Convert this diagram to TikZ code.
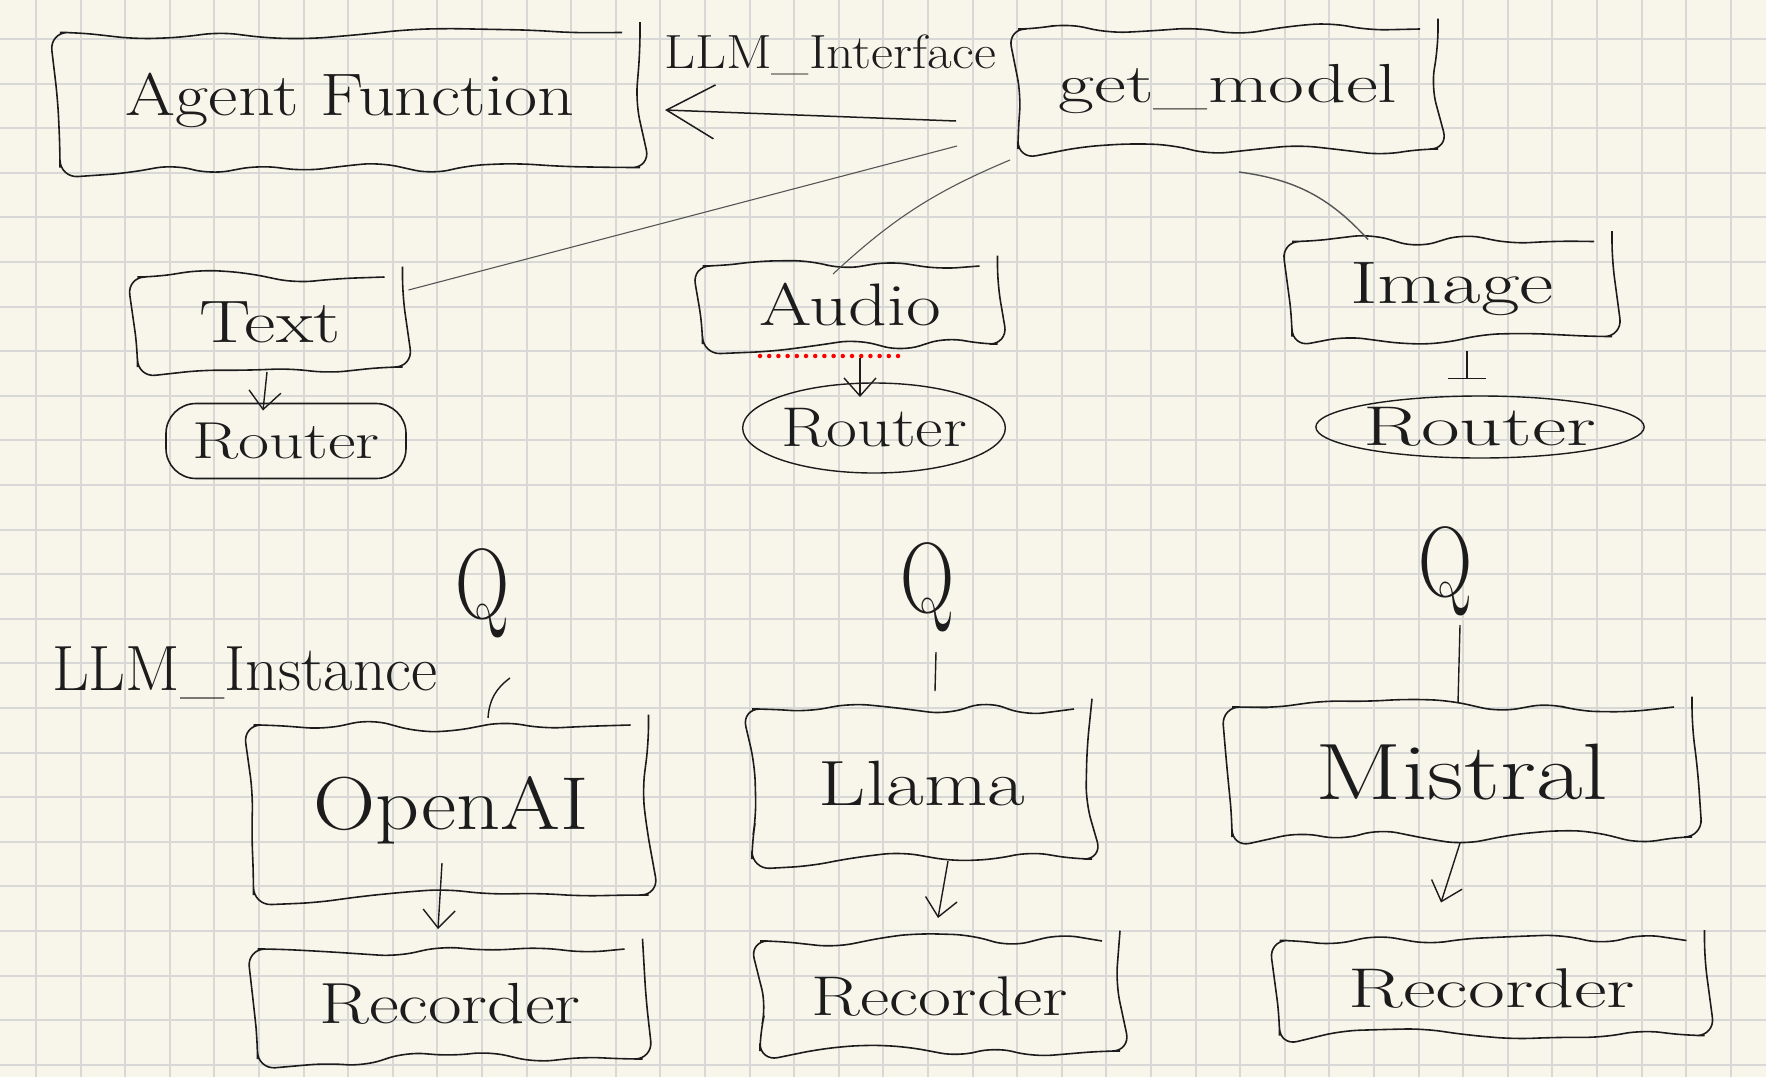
\documentclass[tikz,border=0pt]{standalone}
\usetikzlibrary{arrows.meta,calc,decorations.pathmorphing,shapes.geometric}

\definecolor{paper}{RGB}{248,246,235}
\definecolor{gridgray}{RGB}{216,216,214}
\definecolor{ink}{RGB}{28,28,28}

\newcommand{\scrawl}[2][1.3]{\scalebox{#1}[1]{#2}}

\tikzset{
  hand/.style={font=\fontsize{#1}{#1}\selectfont, text=ink},
  gridline/.style={draw=gridgray, line width=2pt},
  doodle/.style={draw=ink, line width=1.6pt, inner sep=0pt, outer sep=0pt,
    decorate, decoration={random steps, segment length=44pt, amplitude=8pt},
    rounded corners=18pt},
  pill/.style={draw=ink, line width=1.6pt, inner sep=0pt, outer sep=0pt,
    rounded corners=30pt},
  blob/.style={draw=ink, line width=1.4pt, ellipse, inner sep=0pt, outer sep=0pt},
  flow/.style={draw=ink, line width=1.4pt, -{Straight Barb[length=18pt,width=32pt]}},
  thread/.style={draw=ink!75, line width=1.1pt},
}

\begin{document}
\begin{tikzpicture}[x=1pt,y=-1pt]
  \pgfmathsetseed{11}
  \fill[paper] (0,0) rectangle (1766,1077);
  \useasboundingbox (0,0) rectangle (1766,1077);

  % grid paper
  \foreach \i in {0,...,38}
    \draw[gridline] ({36+44.6*\i},0) -- ({36+44.6*\i},1077);
  \foreach \j in {0,...,23}
    \draw[gridline] (0,{39+44.6*\j}) -- (1766,{39+44.6*\j});

  % top row
  \node[doodle, minimum width=580, minimum height=135, hand=60] (agentfn) at (350,100) {\scrawl[1.2]{Agent Function}};
  \node[doodle, minimum width=420, minimum height=120, hand=55] (getmodel) at (1228,89) {\scrawl[1.42]{get\_model}};
  \node[hand=48] (iface) at (830,55) {\scrawl[1.12]{LLM\_Interface}};

  % modalities
  \node[doodle, minimum width=265, minimum height=90, hand=60] (textmod) at (270,322) {\scrawl[1.28]{Text}};
  \node[doodle, minimum width=295, minimum height=78, hand=60] (audiomod) at (850,305) {\scrawl[1.26]{Audio}};
  \node[doodle, minimum width=320, minimum height=95, hand=60] (imagemod) at (1452,289) {\scrawl[1.4]{Image}};

  % routers
  \node[pill, minimum width=240, minimum height=75, hand=52] (routerT) at (286,441) {\scrawl[1.3]{Router}};
  \node[blob, minimum width=247, minimum height=90, hand=56] (routerA) at (874,428) {\scrawl[1.2]{Router}};
  \node[blob, minimum width=310, minimum height=62, hand=56] (routerI) at (1480,427) {\scrawl[1.5]{Router}};

  % Q marks
  \node[hand=100] (qT) at (482,593) {\scrawl[0.75]{Q}};
  \node[hand=100] (qA) at (927,587) {\scrawl[0.75]{Q}};
  \node[hand=100] (qI) at (1445,571) {\scrawl[0.75]{Q}};
  \node[hand=64] (inst) at (245,673) {LLM\_Instance};

  % instances
  \node[doodle, minimum width=395, minimum height=170, hand=75] (openai) at (451,810) {\scrawl[1.15]{OpenAI}};
  \node[doodle, minimum width=340, minimum height=150, hand=64] (llama) at (922,784) {\scrawl[1.28]{Llama}};
  \node[doodle, minimum width=460, minimum height=130, hand=80] (mistral) at (1462,772) {\scrawl[1.27]{Mistral}};

  % recorders
  \node[doodle, minimum width=385, minimum height=110, hand=58] (recO) at (450,1004) {\scrawl[1.26]{Recorder}};
  \node[doodle, minimum width=360, minimum height=110, hand=56] (recL) at (940,996) {\scrawl[1.28]{Recorder}};
  \node[doodle, minimum width=425, minimum height=95, hand=56] (recM) at (1492,988) {\scrawl[1.43]{Recorder}};

  % links to get_model
  \draw[draw=ink, line width=1.5pt, -{Straight Barb[length=48pt,width=54pt]}]
    ($(getmodel.west)+(-62,32)$) -- ($(agentfn.east)+(25,10)$);
  \draw[thread] ($(getmodel.west)+(-61,57)$) -- ($(textmod.east)+(6,-32)$);
  \draw[thread] ($(getmodel.south west)+(-8,11)$) to[bend right=10] ($(audiomod.north)+(-17,8)$);
  \draw[thread, line width=1.4pt] ($(imagemod.north)+(-84,-2)$) to[bend right=20] ($(getmodel.south)+(11,23)$);

  % down to routers
  \draw[flow] ($(textmod.south)+(-3,5)$) -- ($(routerT.north)+(-23,7)$);
  \draw[flow] ($(audiomod.south)+(10,14)$) -- ($(routerA.north)+(-14,14)$);
  \draw[draw=ink, line width=1.4pt, -{Bar[width=38pt]}] ($(imagemod.south)+(15,14)$) -- ($(routerI.north)+(-13,-17)$);
  \draw[red, line width=4.5pt, line cap=round, dash pattern=on 0pt off 9.2pt]
    ($(audiomod.south)+(-90,12)$) -- ($(audiomod.south)+(57,12)$);

  % Q to instances
  \draw[ink, line width=1.4pt] ($(qT)+(28,85)$) to[bend right=25] ($(openai.north)+(37,-7)$);
  \draw[ink, line width=1.4pt] ($(qA)+(9,65)$) -- ($(llama.north)+(13,-18)$);
  \draw[ink, line width=1.4pt] ($(qI)+(15,54)$) -- ($(mistral.north)+(-4,-4)$);

  % instances to recorders
  \draw[flow] ($(openai)+(-9,53)$) -- ($(recO.north)+(-12,-20)$);
  \draw[flow] ($(llama.south)+(26,2)$) -- ($(recL.north)+(-2,-23)$);
  \draw[flow] ($(mistral.south)+(-2,6)$) -- ($(recM.north)+(-51,-38)$);
\end{tikzpicture}
\end{document}
